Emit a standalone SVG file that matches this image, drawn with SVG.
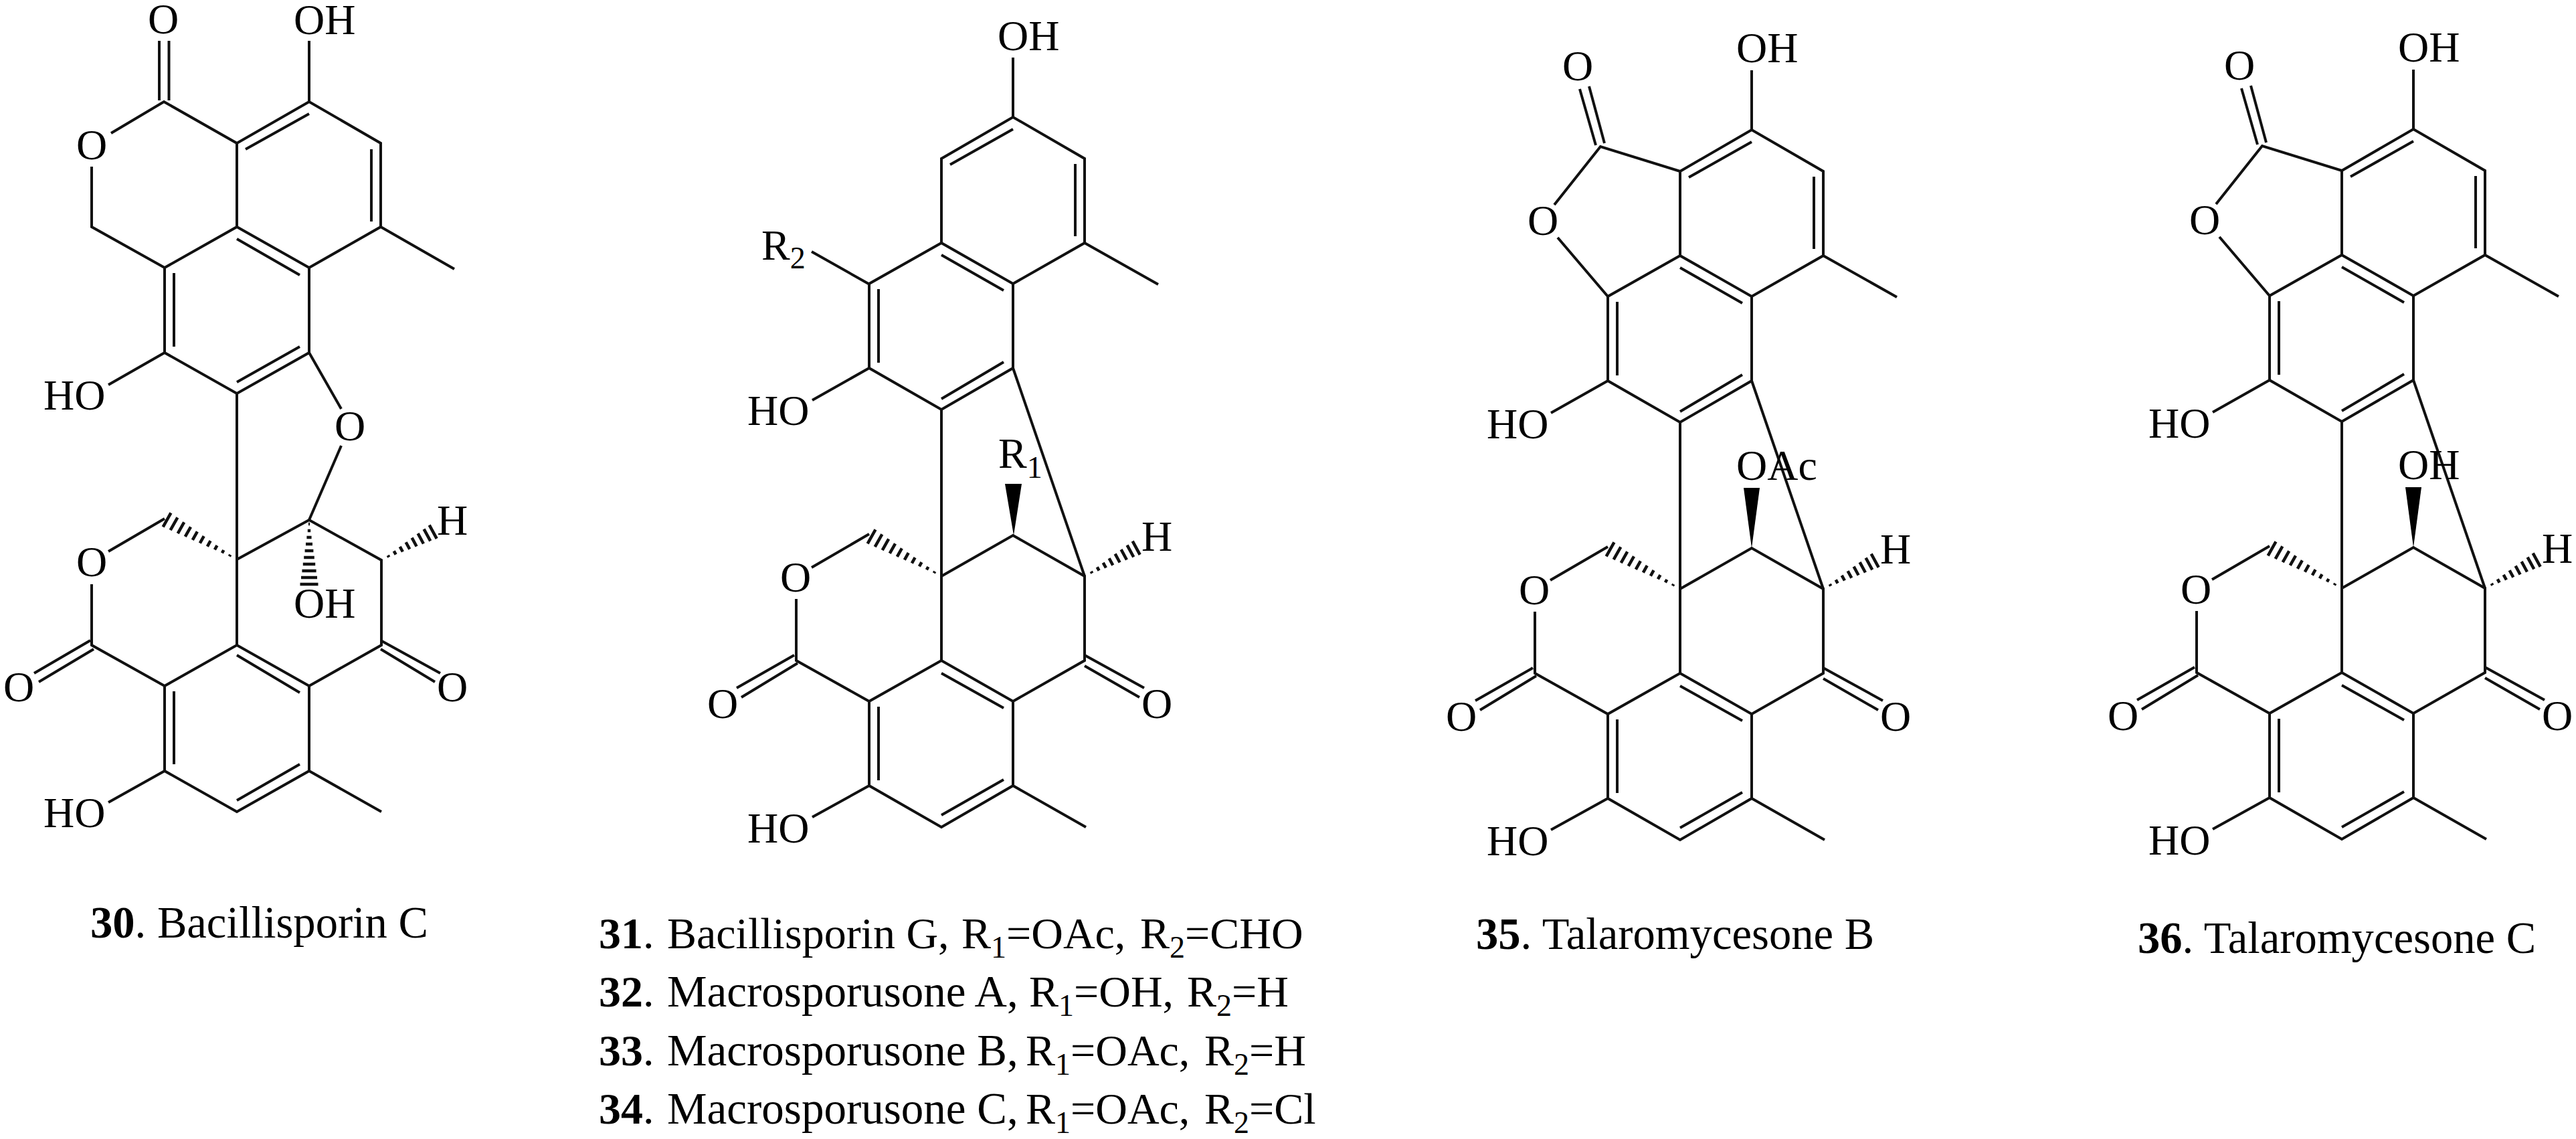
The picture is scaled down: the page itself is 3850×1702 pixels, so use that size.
<svg xmlns="http://www.w3.org/2000/svg" xmlns:xlink="http://www.w3.org/1999/xlink" width="3850" height="1702" viewBox="0 0 3850 1702">
<style>
.b{fill:none;stroke:#111;stroke-width:4;stroke-linejoin:miter;stroke-linecap:butt}
.h{fill:none;stroke:#111;stroke-width:4.5}
.w{fill:#000;stroke:none}
text{font-family:"Liberation Serif","Times New Roman",serif;font-size:64px;fill:#000}
.m{text-anchor:middle}
.c{font-size:66.600px}
.d{font-size:66px}
.g{font-size:67px}
.n{font-weight:bold}
.s{font-size:46px}
</style>
<defs>
<g id="hashLong" class="h"><path d="M12 -1.5V1.5M24 -2.5V2.5M36 -3.6V3.6M48 -4.8V4.8M60 -6V6M72 -7.2V7.2M84 -8.4V8.4M96 -9.6V9.6M108 -10.8V10.8M120 -12V12"/></g>
<g id="hashShort" class="h"><path d="M12 -1.6V1.6M23 -3V3M34 -4.4V4.4M45 -5.9V5.9M56 -7.3V7.3M67 -8.7V8.7M78 -10.1V10.1M88 -11.5V11.5"/></g>
<g id="hashDown" class="h"><path d="M6 -1V1M16 -2.2V2.2M26 -3.6V3.6M36 -5V5M46 -6.4V6.4M56 -7.8V7.8M66 -9.2V9.2M76 -10.6V10.6M86 -12V12M96 -13.5V13.5"/></g>
<g id="core">
<path class="b" d="M2511 256L2618 194L2725 256V382L2618 443L2511 382ZM2511 382L2403 443V569L2511 631L2618 569V443M2524 265L2618 212M2711 264V372M2511 400L2604 453M2417 451V561M2511 615L2604 560M2725 382L2835 444M2618 105V194M2403 569L2318 617M2511 631V1006M2618 569L2725 880"/>
<path class="b" d="M2511 880L2618 819L2725 880V1006L2618 1067L2511 1006L2403 1067V1193L2511 1255L2618 1193V1067M2511 1025L2604 1077M2417 1075V1185M2511 1237L2604 1184M2618 1193L2727 1255M2403 1193L2318 1240M2403 1067L2294 1006V914M2317 867L2403 817M2205 1047L2291 998M2212 1061L2296 1010M2814 1047L2725 998M2807 1061L2725 1014"/>
<use href="#hashLong" transform="translate(2511 880) rotate(209.5)"/>
<use href="#hashShort" transform="translate(2725 880) rotate(-28.7)"/>
</g>
<path id="furanone" class="b" d="M2511 256L2392 219L2323 306M2328 355L2403 443M2361 133L2385 217M2375 129L2398 214"/>
</defs>
<rect width="3850" height="1702" fill="#fff"/>

<g id="compound-30">
<path class="b" d="M238 61V150M252.500 61V150M137 249V339L246 400L354 339L354 214L245 152L166 199M245 152L354 214L462 152L569 214V339L462 400L354 339M367 223L462 170M555 223V331M354 357L448 411M569 339L679 402M462 61V152M246 400V527L354 588L462 527V400M260 408V518M354 571L448 518M246 527L162 575M462 527L510 611M510 666L462 777M354 588V964"/>
<path class="b" d="M162 824L246 775M137 873V964L246 1025L354 964L462 1025L570 964V837L462 777L354 836M246 1025V1152L354 1213L462 1152V1025M354 979L448 1035M260 1033V1142M354 1196L448 1142M462 1152L570 1213M246 1152L162 1199M51 1006L135 957M58 1019L140 970M658 1006L569 957M650 1019L569 970"/>
<use href="#hashLong" transform="translate(354 836) rotate(209.5)"/>
<use href="#hashShort" transform="translate(570 837) rotate(-28.7)"/>
<use href="#hashDown" transform="translate(462 777) rotate(90)"/>
<text class="m" x="244" y="50">O</text>
<text x="439" y="51">OH</text>
<text class="m" x="137" y="238">O</text>
<text x="65" y="612">HO</text>
<text class="m" x="523" y="658">O</text>
<text class="m" x="676" y="799">H</text>
<text class="m" x="137" y="861">O</text>
<text x="439" y="923">OH</text>
<text class="m" x="28" y="1048">O</text>
<text class="m" x="676" y="1048">O</text>
<text x="65" y="1236">HO</text>
<text class="c" x="135" y="1401"><tspan class="n">30</tspan>. Bacillisporin C</text>
</g>

<g id="compound-31-34">
<use href="#core" transform="translate(-1104 -19)"/>
<path class="b" d="M1213 376L1298 424"/>
<path class="w" d="M1502 723H1527L1515 800Z"/>
<text x="1491" y="75">OH</text>
<text x="1138" y="388">R<tspan class="s" dy="13">2</tspan></text>
<text x="1117" y="635">HO</text>
<text x="1492" y="699">R<tspan class="s" dy="15">1</tspan></text>
<text class="m" x="1189" y="884">O</text>
<text class="m" x="1729" y="823">H</text>
<text class="m" x="1080" y="1073">O</text>
<text class="m" x="1729" y="1073">O</text>
<text x="1117" y="1259">HO</text>
<text class="d" y="1417"><tspan class="n" x="895">31</tspan>.<tspan x="997">Bacillisporin G,</tspan><tspan x="1437">R</tspan><tspan class="s" dy="14">1</tspan><tspan dy="-14">=OAc,</tspan><tspan x="1704">R</tspan><tspan class="s" dy="14">2</tspan><tspan dy="-14">=CHO</tspan></text>
<text class="d" y="1504"><tspan class="n" x="895">32</tspan>.<tspan class="g" x="997">Macrosporusone A,</tspan><tspan x="1538">R</tspan><tspan class="s" dy="14">1</tspan><tspan dy="-14">=OH,</tspan><tspan x="1774">R</tspan><tspan class="s" dy="14">2</tspan><tspan dy="-14">=H</tspan></text>
<text class="d" y="1592"><tspan class="n" x="895">33</tspan>.<tspan class="g" x="997">Macrosporusone B,</tspan><tspan x="1533">R</tspan><tspan class="s" dy="14">1</tspan><tspan dy="-14">=OAc,</tspan><tspan x="1800">R</tspan><tspan class="s" dy="14">2</tspan><tspan dy="-14">=H</tspan></text>
<text class="d" y="1679"><tspan class="n" x="895">34</tspan>.<tspan class="g" x="997">Macrosporusone C,</tspan><tspan x="1533">R</tspan><tspan class="s" dy="14">1</tspan><tspan dy="-14">=OAc,</tspan><tspan x="1800">R</tspan><tspan class="s" dy="14">2</tspan><tspan dy="-14">=Cl</tspan></text>
</g>

<g id="compound-35">
<use href="#core"/>
<use href="#furanone"/>
<path class="w" d="M2606 729H2630L2618 819Z"/>
<text x="2595" y="93">OH</text>
<text class="m" x="2358" y="120">O</text>
<text class="m" x="2306" y="351">O</text>
<text x="2222" y="655">HO</text>
<text x="2595" y="717">OAc</text>
<text class="m" x="2293" y="903">O</text>
<text class="m" x="2833" y="842">H</text>
<text class="m" x="2184" y="1092">O</text>
<text class="m" x="2833" y="1092">O</text>
<text x="2222" y="1278">HO</text>
<text class="c" x="2206" y="1418"><tspan class="n">35</tspan>. Talaromycesone B</text>
</g>

<g id="compound-36">
<use href="#core" transform="translate(989 -1)"/>
<use href="#furanone" transform="translate(989 -1)"/>
<path class="w" d="M3595 728H3619L3607 818Z"/>
<text x="3584" y="92">OH</text>
<text class="m" x="3347" y="119">O</text>
<text class="m" x="3295" y="350">O</text>
<text x="3211" y="654">HO</text>
<text x="3584" y="716">OH</text>
<text class="m" x="3282" y="902">O</text>
<text class="m" x="3822" y="841">H</text>
<text class="m" x="3173" y="1091">O</text>
<text class="m" x="3822" y="1091">O</text>
<text x="3211" y="1277">HO</text>
<text class="c" x="3195" y="1424"><tspan class="n">36</tspan>. Talaromycesone C</text>
</g>
</svg>
